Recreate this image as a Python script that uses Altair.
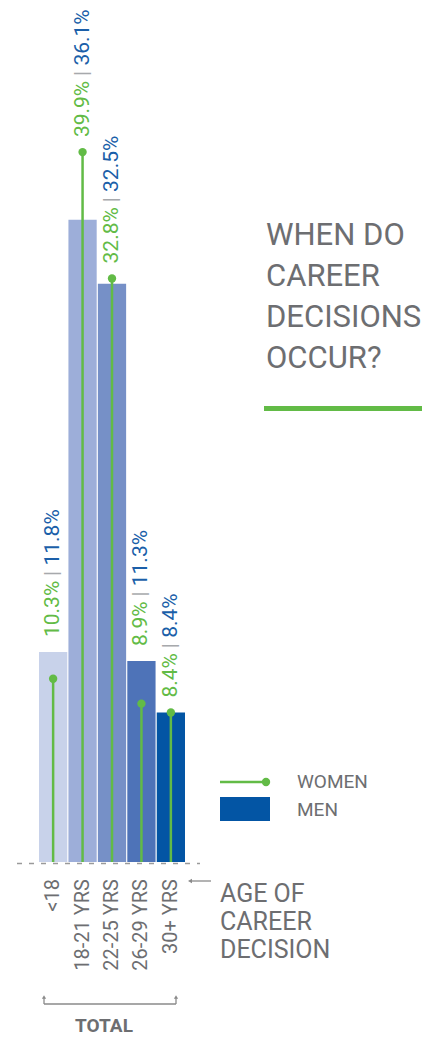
import altair as alt
import pandas as pd

# ---------------- data ----------------
ages = ["<18", "18-21 YRS", "22-25 YRS", "26-29 YRS", "30+ YRS"]
women = [10.3, 39.9, 32.8, 8.9, 8.4]
men = [11.8, 36.1, 32.5, 11.3, 8.4]
bar_colors = ["#c8d2ea", "#9daed9", "#7690c7", "#4e73b8", "#0355a4"]

title_lines = ["WHEN DO", "CAREER", "DECISIONS", "OCCUR?"]
axis_title_lines = ["AGE OF", "CAREER", "DECISION"]
legend_labels = ["WOMEN", "MEN"]
bracket_label = "TOTAL"

# ---------------- style ----------------
FONT = "Roboto"
GREEN = "#62bb46"
BLUE = "#1b5fa9"
GREY = "#6d6e71"
LIGHTGREY = "#a7a9ac"
LINEGREY = "#8a8a8a"

VAL_FS = 21
DIGIT = 0.5615 * VAL_FS
DOT = 0.263 * VAL_FS
PCT = 0.716 * VAL_FS
SP = 0.248 * VAL_FS
BARW = 0.245 * VAL_FS
PAD = 15

df = pd.DataFrame({"age": ages, "women": women, "men": men})
one = pd.DataFrame({"k": [0]})

x = alt.X("age:N", sort=ages, axis=None,
          scale=alt.Scale(domain=ages, range=[31, 177], paddingInner=0.04, paddingOuter=0))
y_scale = alt.Scale(domain=[0, 48])

base = alt.Chart(df)

bars = base.mark_bar().encode(
    x=x,
    y=alt.Y("men:Q", scale=y_scale, axis=None),
    color=alt.Color("age:N", scale=alt.Scale(domain=ages, range=bar_colors), legend=None),
)

baseline = alt.Chart(one).mark_rule(color="#9a9a9a", strokeWidth=1.5, strokeDash=[5, 7]).encode(
    x=alt.value(9), x2=alt.value(192), y=alt.value(855.5)
)

stems = base.mark_rule(color=GREEN, strokeWidth=2.5).encode(
    x=x, y=alt.Y("women:Q", scale=y_scale, axis=None), y2=alt.datum(0)
)
dots = base.mark_circle(color=GREEN, size=70, opacity=1).encode(
    x=x, y=alt.Y("women:Q", scale=y_scale, axis=None)
)

lab = base.transform_calculate(
    top="max(datum.women, datum.men)",
    wlab="format(datum.women, '.1f') + '%'",
    mlab="format(datum.men, '.1f') + '%'",
).transform_calculate(wlen="length(datum.wlab)")

ytop = alt.Y("top:Q", scale=y_scale, axis=None)
label_layers = [
    lab.mark_text(color=GREEN, dx=PAD, angle=270, align="left", baseline="middle",
                  font=FONT, fontSize=VAL_FS).encode(x=x, y=ytop, text="wlab:N")
]
for L in (4, 5):
    w = (L - 2) * DIGIT + DOT + PCT
    sub = lab.transform_filter(f"datum.wlen == {L}")
    label_layers.append(
        sub.mark_text(color=LIGHTGREY, dx=PAD + w + SP + BARW / 2, angle=270, align="center",
                      baseline="middle", font=FONT, fontSize=VAL_FS).encode(x=x, y=ytop, text=alt.value("|"))
    )
    label_layers.append(
        sub.mark_text(color=BLUE, dx=PAD + w + 2 * SP + BARW, angle=270, align="left",
                      baseline="middle", font=FONT, fontSize=VAL_FS).encode(x=x, y=ytop, text="mlab:N")
    )

axis_labels = base.mark_text(angle=270, align="right", baseline="middle", font=FONT,
                             fontSize=20, color=GREY).encode(x=x, y=alt.value(871), text="age:N")

# arrow pointing to the axis labels
arrow_line = alt.Chart(one).mark_rule(color=LINEGREY, strokeWidth=1.3).encode(
    x=alt.value(182), x2=alt.value(203), y=alt.value(873))
arrow_head = alt.Chart(one).mark_point(shape="triangle-left", filled=True, color=LINEGREY,
                                       size=22, opacity=1).encode(x=alt.value(182), y=alt.value(873))
axis_title = alt.Chart(one).mark_text(align="left", baseline="alphabetic", font=FONT, fontSize=25,
                                      lineHeight=28, color=GREY).encode(
    x=alt.value(212), y=alt.value(894), text=alt.value(axis_title_lines))

# title
title = alt.Chart(one).mark_text(align="left", baseline="alphabetic", font=FONT, fontSize=31,
                                 lineHeight=41, color=GREY).encode(
    x=alt.value(258), y=alt.value(237), text=alt.value(title_lines))
title_rule = alt.Chart(one).mark_rule(color=GREEN, strokeWidth=5).encode(
    x=alt.value(256), x2=alt.value(414), y=alt.value(400.5))

# legend
leg_line = alt.Chart(one).mark_rule(color=GREEN, strokeWidth=2.5).encode(
    x=alt.value(212), x2=alt.value(258), y=alt.value(774))
leg_dot = alt.Chart(one).mark_circle(color=GREEN, size=70, opacity=1).encode(
    x=alt.value(258), y=alt.value(774))
leg_rect = alt.Chart(one).mark_rect(color=bar_colors[-1]).encode(
    x=alt.value(212), x2=alt.value(262), y=alt.value(789), y2=alt.value(813))
leg_w = alt.Chart(one).mark_text(align="left", baseline="middle", font=FONT, fontSize=19,
                                 color=GREY).encode(x=alt.value(289), y=alt.value(774),
                                                    text=alt.value(legend_labels[0]))
leg_m = alt.Chart(one).mark_text(align="left", baseline="middle", font=FONT, fontSize=19,
                                 color=GREY).encode(x=alt.value(289), y=alt.value(802),
                                                    text=alt.value(legend_labels[1]))

# bracket + TOTAL
br_h = alt.Chart(one).mark_rule(color=LINEGREY, strokeWidth=1.3).encode(
    x=alt.value(36), x2=alt.value(168), y=alt.value(996))
br_l = alt.Chart(one).mark_rule(color=LINEGREY, strokeWidth=1.3).encode(
    x=alt.value(36), y=alt.value(989), y2=alt.value(996))
br_r = alt.Chart(one).mark_rule(color=LINEGREY, strokeWidth=1.3).encode(
    x=alt.value(168), y=alt.value(989), y2=alt.value(996))
br_al = alt.Chart(one).mark_point(shape="triangle-up", filled=True, color=LINEGREY, size=18,
                                  opacity=1).encode(x=alt.value(36), y=alt.value(989))
br_ar = alt.Chart(one).mark_point(shape="triangle-up", filled=True, color=LINEGREY, size=18,
                                  opacity=1).encode(x=alt.value(168), y=alt.value(989))
total = alt.Chart(one).mark_text(align="center", baseline="alphabetic", font=FONT, fontSize=19,
                                 fontWeight="bold", color=GREY).encode(
    x=alt.value(96), y=alt.value(1024), text=alt.value(bracket_label))

chart = alt.layer(
    bars, baseline, stems, dots, *label_layers, axis_labels,
    arrow_line, arrow_head, axis_title, title, title_rule,
    leg_line, leg_dot, leg_rect, leg_w, leg_m,
    br_h, br_l, br_r, br_al, br_ar, total,
).properties(
    width=414, height=854,
    autosize=alt.AutoSizeParams(type="none"),
    padding={"left": 0, "top": 0, "right": 0, "bottom": 174},
).configure_view(stroke=None)

chart.save("out.html", embed_options={"renderer": "svg", "actions": False})
